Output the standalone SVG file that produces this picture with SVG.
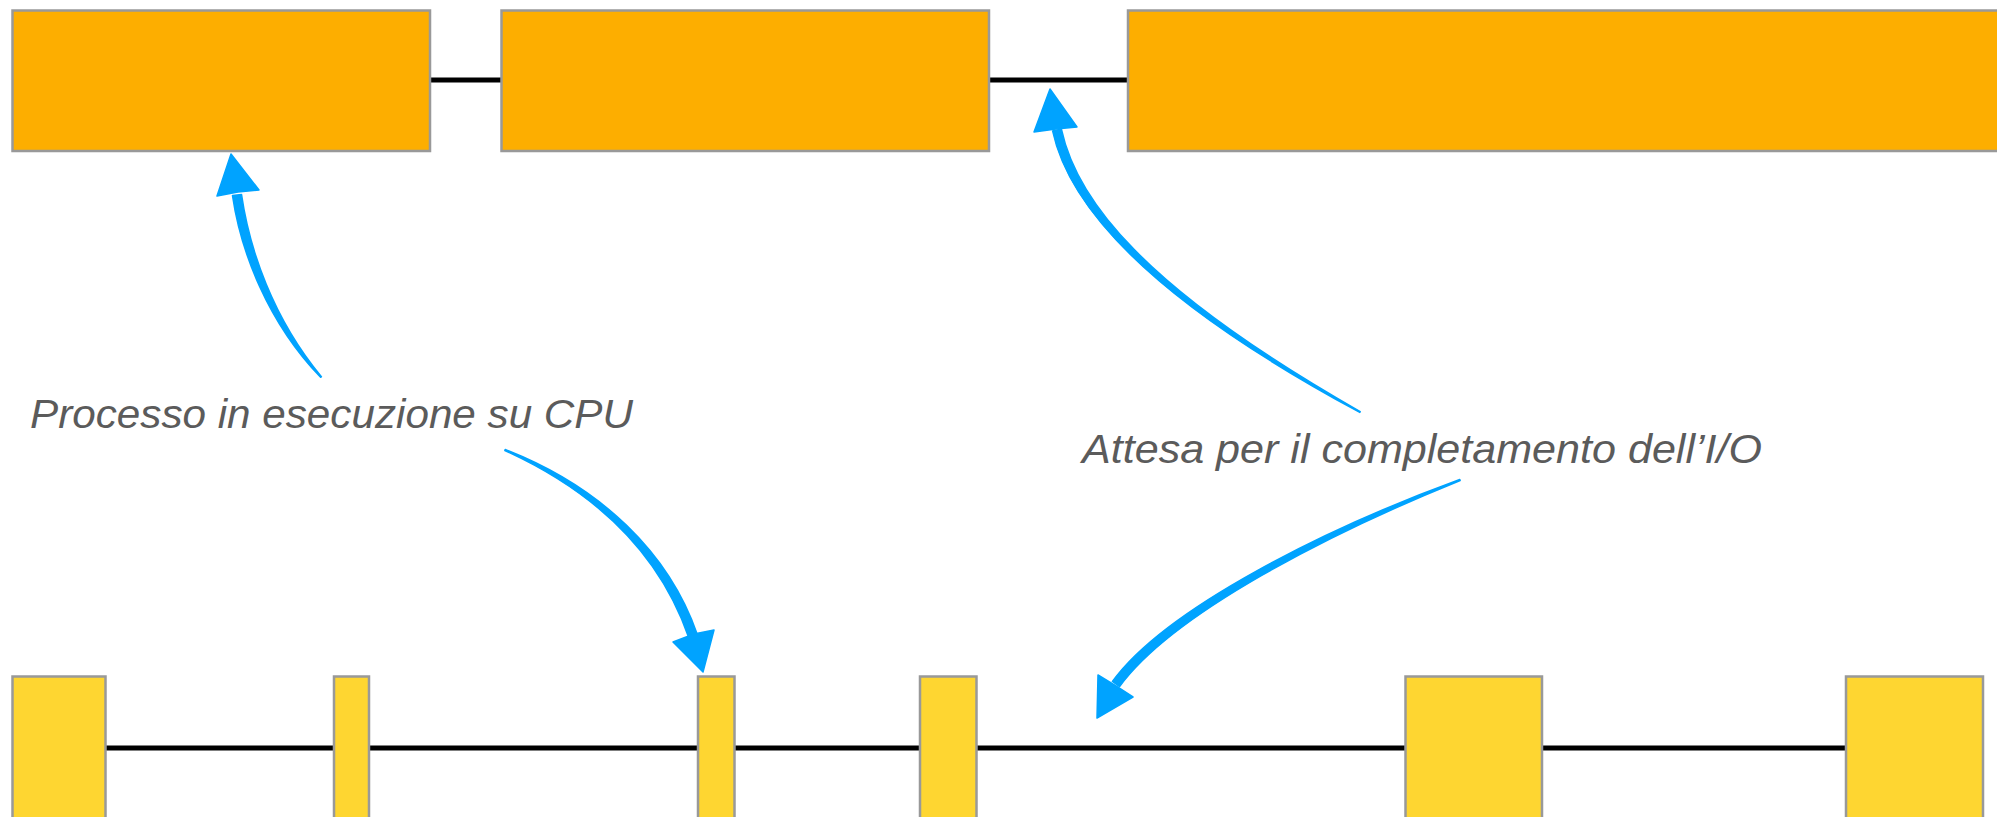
<svg xmlns="http://www.w3.org/2000/svg" width="1997" height="817" viewBox="0 0 1997 817">
  <style>
    .cpu-long { fill: #FDAE00; stroke: #999999; stroke-width: 2.5; }
    .cpu-short { fill: #FED631; stroke: #999999; stroke-width: 2.5; }
    .wait { stroke: #000000; stroke-width: 5; fill: none; }
    .callout { fill: #00A3FF; stroke: #00A3FF; stroke-width: 1.5; stroke-linejoin: round; }
    .label { font-family: "Liberation Sans", Arial, sans-serif; font-style: italic; font-size: 40px; fill: #5B5B5B; }
  </style>
  <rect width="1997" height="817" fill="#FFFFFF"/>

  <!-- waiting periods (I/O) between bursts -->
  <g id="connectors">
    <line class="wait" x1="430" y1="80" x2="502" y2="80"/>
    <line class="wait" x1="989" y1="80" x2="1128" y2="80"/>
    <line class="wait" x1="105" y1="748" x2="334" y2="748"/>
    <line class="wait" x1="369" y1="748" x2="698" y2="748"/>
    <line class="wait" x1="734" y1="748" x2="920" y2="748"/>
    <line class="wait" x1="976" y1="748" x2="1405" y2="748"/>
    <line class="wait" x1="1542" y1="748" x2="1846" y2="748"/>
  </g>

  <!-- CPU-bound process: long bursts -->
  <g id="top-burst-1"><rect class="cpu-long" x="12.5" y="10.5" width="417.5" height="140.5"/></g>
  <g id="top-burst-2"><rect class="cpu-long" x="501.5" y="10.5" width="487.5" height="140.5"/></g>
  <g id="top-burst-3"><rect class="cpu-long" x="1128" y="10.5" width="880" height="140.5"/></g>

  <!-- I/O-bound process: short bursts -->
  <g id="bottom-burst-1"><rect class="cpu-short" x="12.5" y="676.5" width="93" height="150"/></g>
  <g id="bottom-burst-2"><rect class="cpu-short" x="334" y="676.5" width="35" height="150"/></g>
  <g id="bottom-burst-3"><rect class="cpu-short" x="698" y="676.5" width="36.5" height="150"/></g>
  <g id="bottom-burst-4"><rect class="cpu-short" x="920" y="676.5" width="56.5" height="150"/></g>
  <g id="bottom-burst-5"><rect class="cpu-short" x="1405.5" y="676.5" width="136.5" height="150"/></g>
  <g id="bottom-burst-6"><rect class="cpu-short" x="1846" y="676.5" width="137" height="150"/></g>

  <!-- hand-drawn callout arrows -->
  <g id="callouts">
    <path class="callout" d="M241.5,194.4 C249.5,249.4 272.6,317.7 321.4,376.7 L320.6,377.3 C267.4,322.3 240.5,250.6 232.5,195.6 Z"/>
    <polygon class="callout" points="231,154 259,190 238,192 217,196"/>

    <path class="callout" d="M1061.4,129.1 C1076.4,199.1 1141.7,286.9 1360.2,411.6 L1359.8,412.4 C1138.3,293.1 1067.6,200.9 1052.6,130.9 Z"/>
    <polygon class="callout" points="1050,89 1077,127 1056,129 1034,132"/>

    <path class="callout" d="M504.8,450.5 C598.6,493.2 660.7,556.5 688.7,637.5 L697.3,634.5 C669.3,553.5 601.4,486.8 505.2,449.5 Z"/>
    <polygon class="callout" points="703,672 673,642 694,634 714,630"/>

    <path class="callout" d="M1459.8,479.5 C1328.9,527.2 1166.4,607.3 1112.4,681.4 L1119.6,686.6 C1173.6,612.7 1331.1,532.8 1460.2,480.5 Z"/>
    <polygon class="callout" points="1097,718 1098,675 1116,686 1133,697"/>
  </g>

  <g id="labels">
    <text class="label" x="30" y="428" textLength="603" lengthAdjust="spacingAndGlyphs">Processo in esecuzione su CPU</text>
    <text class="label" x="1082" y="463" textLength="680" lengthAdjust="spacingAndGlyphs">Attesa per il completamento dell’I/O</text>
  </g>
</svg>
